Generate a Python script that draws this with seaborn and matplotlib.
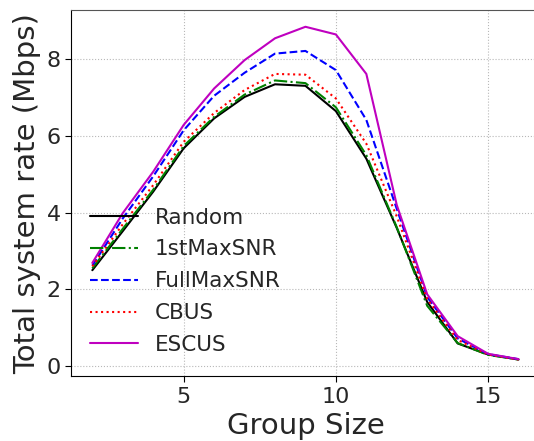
import numpy as np
import pandas as pd
import matplotlib
matplotlib.use('Agg')
import matplotlib.pyplot as plt
import seaborn as sns

group_size = list(range(2, 17))

random_rate = [2.50, 3.52, 4.55, 5.68, 6.46, 7.02, 7.35, 7.31, 6.65, 5.41, 3.60, 1.67, 0.59, 0.30, 0.17]
first_max_snr = [2.55, 3.58, 4.60, 5.74, 6.50, 7.08, 7.45, 7.38, 6.75, 5.50, 3.62, 1.57, 0.60, 0.29, 0.17]
full_max_snr = [2.62, 3.85, 4.95, 6.15, 7.05, 7.65, 8.15, 8.22, 7.72, 6.42, 4.10, 1.80, 0.72, 0.31, 0.18]
cbus = [2.60, 3.70, 4.72, 5.85, 6.60, 7.20, 7.62, 7.60, 6.98, 5.80, 3.90, 1.75, 0.68, 0.30, 0.17]
escus = [2.69, 3.99, 5.07, 6.29, 7.24, 7.98, 8.55, 8.85, 8.65, 7.62, 4.20, 1.87, 0.78, 0.32, 0.18]

series = {
    'Random': (random_rate, 'k', '-'),
    '1stMaxSNR': (first_max_snr, 'g', '-.'),
    'FullMaxSNR': (full_max_snr, 'b', '--'),
    'CBUS': (cbus, 'r', ':'),
    'ESCUS': (escus, 'm', '-'),
}

sns.set_style('ticks')
plt.rcParams['font.family'] = ['DejaVu Sans']

fig = plt.figure(figsize=(5.34, 4.41), dpi=100)
ax = fig.add_axes([0.133, 0.147, 0.878, 0.830])

for name, (vals, col, ls) in series.items():
    df = pd.DataFrame({'Group Size': group_size, 'rate': vals})
    sns.lineplot(data=df, x='Group Size', y='rate', color=col, linestyle=ls,
                 linewidth=1.5, label=name, ax=ax)

ax.grid(True, linestyle=':', color='#b8b8b8', linewidth=0.8)
ax.set_xticks([5, 10, 15])
ax.set_yticks([0, 2, 4, 6, 8])
ax.tick_params(labelsize=16, direction='out', length=4, color='k')
ax.set_xlabel('Group Size', fontsize=21)
ax.set_ylabel('Total system rate (Mbps)', fontsize=21)
for s in ['left', 'bottom']:
    ax.spines[s].set_color('k')
for s in ['top', 'right']:
    ax.spines[s].set_color('#555555')

ax.legend(loc='lower left', fontsize=15.5, frameon=False, handlelength=2.2,
          bbox_to_anchor=(0.0, 0.005), labelspacing=0.55)

fig.savefig('out.png', dpi=100)
